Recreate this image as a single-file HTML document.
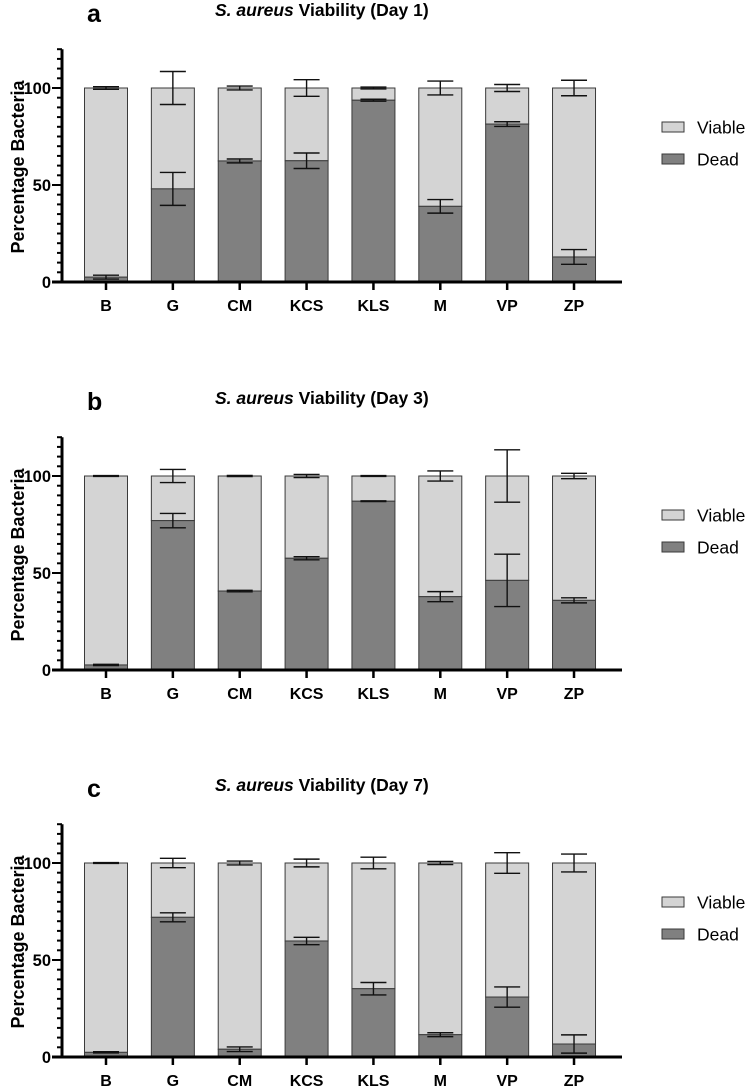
<!DOCTYPE html>
<html><head><meta charset="utf-8">
<style>
html,body{margin:0;padding:0;background:#fff;}
svg{display:block;font-family:"Liberation Sans",Arial,sans-serif;}
</style></head>
<body>
<svg id="chart" width="749" height="1088" viewBox="0 0 749 1088"></svg>
<script>
const categories = ["B","G","CM","KCS","KLS","M","VP","ZP"];
const panelLetters = ["a","b","c"];
const panelDays = ["1","3","7"];
const deadDay1 = [2.5,48,62.4,62.5,93.7,39,81.4,12.9];
const deadErrDay1 = [1,8.5,1,4,0.5,3.5,1.2,3.8];
const viableErrDay1 = [0.7,8.5,1,4.3,0.5,3.6,1.8,4];
const deadDay3 = [2.6,77,40.7,57.6,87,37.8,46.2,35.9];
const deadErrDay3 = [0.3,3.7,0.4,0.8,0.2,2.6,13.5,1.3];
const viableErrDay3 = [0.2,3.4,0.3,0.8,0.2,2.6,13.5,1.4];
const deadDay7 = [2.4,72,4,59.8,35.2,11.5,30.9,6.7];
const deadErrDay7 = [0.3,2.3,1.2,1.9,3.2,1,5.2,4.7];
const viableErrDay7 = [0.2,2.4,1,2,3,0.8,5.3,4.6];
const yTicks = [0,50,100];
const totalPct = 100;

const NS="http://www.w3.org/2000/svg";
const svg=document.getElementById('chart');
function mk(tag,attrs,parent){const e=document.createElementNS(NS,tag);for(const k in attrs)e.setAttribute(k,attrs[k]);(parent||svg).appendChild(e);return e;}

const deadSets=[deadDay1,deadDay3,deadDay7];
const deadErrSets=[deadErrDay1,deadErrDay3,deadErrDay7];
const viableErrSets=[viableErrDay1,viableErrDay3,viableErrDay7];
const zeros=[282,670,1057];
const axisX=62, scale=1.94, x0=106, step=66.86, bw=43, capW=26;

for(let p=0;p<3;p++){
  const z=zeros[p];
  const y=v=>z-v*scale;
  const xc=i=>x0+i*step;
  const g=mk('g',{});
  
  
  const L=mk('text',{x:87,y:z-260,'font-size':25,'font-weight':'bold',fill:'#000'},g);
  L.textContent=panelLetters[p];
  
  
  const T=mk('text',{x:215,y:z-266,'font-size':17.5,'font-weight':'bold',fill:'#000'},g);
  
  
  const ts=mk('tspan',{'font-style':'italic'},T); ts.textContent='S. aureus';
  const t2=mk('tspan',{},T); t2.textContent=' Viability (Day '+panelDays[p]+')';
  const dead=deadSets[p], de=deadErrSets[p], ve=viableErrSets[p];
  categories.forEach((c,i)=>{
    const x=xc(i)-bw/2;
    const rv=mk('rect',{x:x,y:y(totalPct),width:bw,height:y(dead[i])-y(totalPct),fill:'#d4d4d4',stroke:'#3a3a3a','stroke-width':1},g);
    
    
    const rd=mk('rect',{x:x,y:y(dead[i]),width:bw,height:z-y(dead[i]),fill:'#808080',stroke:'#3a3a3a','stroke-width':1},g);
    
    
    [[dead[i],de[i],'dead'],[totalPct,ve[i],'viable']].forEach(([v,e,n])=>{
      const eg=mk('g',{stroke:'#111','stroke-width':1.4},g);
      
      
      mk('line',{x1:xc(i),x2:xc(i),y1:y(v+e),y2:y(v-e)},eg);
      mk('line',{x1:xc(i)-capW/2,x2:xc(i)+capW/2,y1:y(v+e),y2:y(v+e)},eg);
      mk('line',{x1:xc(i)-capW/2,x2:xc(i)+capW/2,y1:y(v-e),y2:y(v-e)},eg);
    });
    const tk=mk('line',{x1:xc(i),x2:xc(i),y1:z,y2:z+8,stroke:'#000','stroke-width':2.5},g);
    
    
    const lb=mk('text',{x:xc(i),y:z+29,'font-size':16,'font-weight':'bold','text-anchor':'middle',fill:'#000'},g);
    lb.textContent=c;
    
    
  });
  const ya=mk('line',{x1:axisX,x2:axisX,y1:y(120),y2:z+1.5,stroke:'#000','stroke-width':3},g);
  
  
  for(let v=0;v<=120;v+=5){
    mk('line',{x1:axisX-(v%50===0?10:5),x2:axisX,y1:y(v),y2:y(v),stroke:'#000','stroke-width':2},g);
  }
  yTicks.forEach(v=>{
    const t=mk('text',{x:51,y:y(v)+6,'font-size':16.5,'font-weight':'bold','text-anchor':'end',fill:'#000'},g);
    t.textContent=v;
    
    
  });
  const xa=mk('line',{x1:52,x2:622,y1:z,y2:z,stroke:'#000','stroke-width':3},g);
  
  
  const yt=mk('text',{x:0,y:0,'font-size':18,'font-weight':'bold','text-anchor':'middle',fill:'#000',transform:'translate(24,'+(z-115)+') rotate(-90)'},g);
  yt.textContent='Percentage Bacteria';
  
  
  [['Viable','#d4d4d4',-155],['Dead','#808080',-123]].forEach(([n,col,dy])=>{
    const lg=mk('g',{},g);
    
    
    mk('rect',{x:662,y:z+dy-5,width:22,height:10,fill:col,stroke:'#3a3a3a','stroke-width':1},lg);
    const lt=mk('text',{x:697,y:z+dy+6.5,'font-size':17.5,fill:'#000'},lg);
    lt.textContent=n;
  });
}
</script>
</body></html>
